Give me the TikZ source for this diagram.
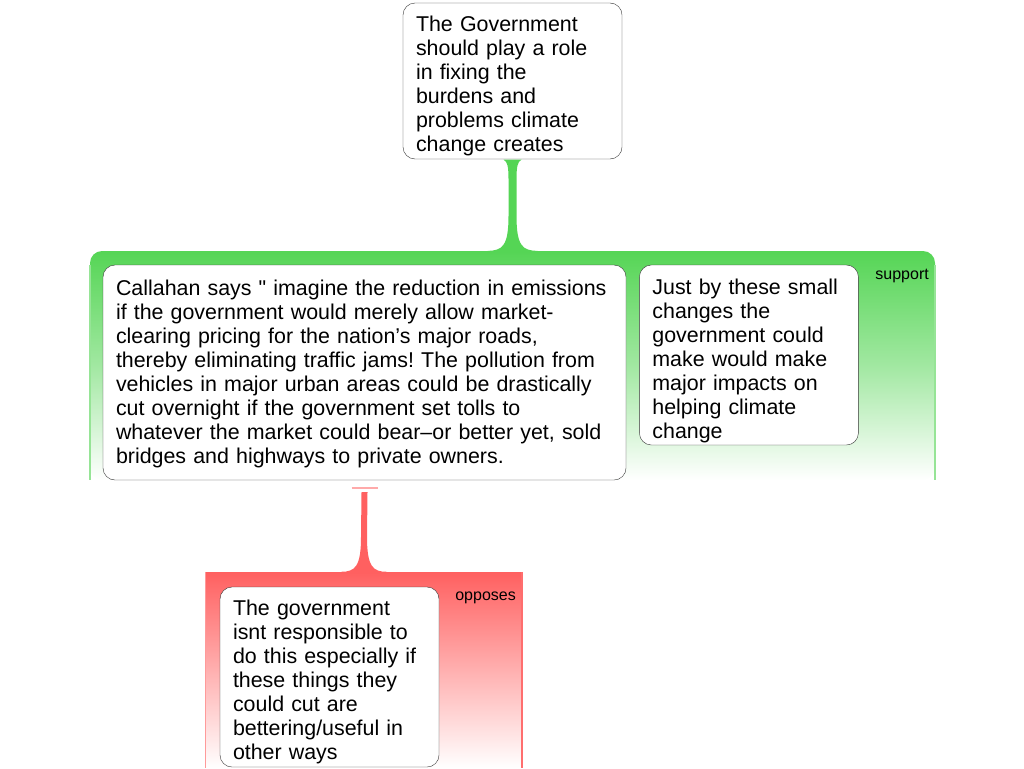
\documentclass[tikz,border=0pt]{standalone}
\usepackage{fontspec}
\setmainfont{Liberation Sans}
\usepackage{tikz}
\usetikzlibrary{calc, positioning}
\usepackage{xcolor}
\frenchspacing

\definecolor{supportgreen}{RGB}{85,213,85}
\definecolor{supportline}{RGB}{150,228,150}
\definecolor{opposered}{RGB}{255,96,96}
\definecolor{opposeline}{RGB}{255,110,110}
\definecolor{opposetick}{RGB}{255,170,170}

% extra room above the first line of a box
\newcommand{\boxgap}[1]{\rule{0pt}{#1}}

\tikzset{
  argbox/.style={draw=black!80, fill=white, rounded corners=12pt, align=left,
    inner xsep=13pt, inner ysep=0pt, font=\fontsize{21.4}{24}\selectfont},
  grouplabel/.style={anchor=east, inner sep=0pt, font=\fontsize{16}{18}\selectfont}
}

\begin{document}
\begin{tikzpicture}[x=1pt, y=-1pt]
\useasboundingbox (0,0) rectangle (1024,768);

% Group areas
\node (SupportGrp) at (512.5,365.5) [minimum width=845pt, minimum height=229pt, inner sep=0pt, rounded corners=12pt, top color=supportgreen, bottom color=white, middle color=supportgreen!55] {};
\draw[supportline, line width=1.5pt] ([yshift=-14pt]SupportGrp.north west) -- (SupportGrp.south west);
\draw[supportline, line width=1.5pt] ([yshift=-14pt]SupportGrp.north east) -- (SupportGrp.south east);
\node (SupportLbl) at (929,276) [grouplabel] {support};

\node (OpposeGrp) at (364,670) [minimum width=316pt, minimum height=196pt, inner sep=0pt, top color=opposered, bottom color=white] {};
\draw[opposeline!70, line width=1pt] (OpposeGrp.north west) -- (OpposeGrp.south west);
\draw[opposeline, line width=1.5pt] (OpposeGrp.north east) -- (OpposeGrp.south east);
\node (OpposeLbl) at (516,598) [grouplabel] {opposes};

% Argument boxes
\node (Claim) at (512.5,81) [argbox, text width=193pt, minimum height=156pt] {\boxgap{26pt}The Government\\ should play a role\\ in fixing the\\ burdens and\\ problems climate\\ change creates};
\node (Callahan) at (364.5,372.5) [argbox, text width=497pt, minimum height=215pt] {\boxgap{19pt}Callahan says \textquotedbl{} imagine the reduction in emissions\\ if the government would merely allow market-\\ clearing pricing for the nation’s major roads,\\ thereby eliminating traffic jams! The pollution from\\ vehicles in major urban areas could be drastically\\ cut overnight if the government set tolls to\\ whatever the market could bear–or better yet, sold\\ bridges and highways to private owners.};
\node (JustBy) [argbox, text width=193pt, minimum height=180pt, right=13pt of Callahan.north east, anchor=north west] {\boxgap{27pt}Just by these small\\ changes the\\ government could\\ make would make\\ major impacts on\\ helping climate\\ change};
\node (Govt) at (329.5,677) [argbox, text width=193pt, minimum height=180pt] {\boxgap{26pt}The government\\ isnt responsible to\\ do this especially if\\ these things they\\ could cut are\\ bettering/useful in\\ other ways};

% Connectors
\fill[supportgreen] ($(Claim.south)+(-9,0.5)$) .. controls ($(Claim.south)+(-5,2)$) and ($(Claim.south)+(-4,8)$) .. ($(Claim.south)+(-4,20)$)
  -- ($(SupportGrp.north)+(-4,-35)$) .. controls ($(SupportGrp.north)+(-4,-5)$) and ($(SupportGrp.north)+(-10,0)$) .. ($(SupportGrp.north)+(-25,0)$)
  -- ($(SupportGrp.north)+(-25,2)$) -- ($(SupportGrp.north)+(25,2)$) -- ($(SupportGrp.north)+(25,0)$)
  .. controls ($(SupportGrp.north)+(10,0)$) and ($(SupportGrp.north)+(4,-5)$) .. ($(SupportGrp.north)+(4,-35)$)
  -- ($(Claim.south)+(4,20)$) .. controls ($(Claim.south)+(4,8)$) and ($(Claim.south)+(5,2)$) .. ($(Claim.south)+(9,0.5)$) -- cycle;

\draw[opposetick, line width=2pt] ($(Callahan.south)+(-13,8)$) -- ($(Callahan.south)+(13,8)$);
\fill[opposered] ($(Callahan.south)+(-3,12)$) -- ($(OpposeGrp.north)+(-3,-35)$)
  .. controls ($(OpposeGrp.north)+(-3,-5)$) and ($(OpposeGrp.north)+(-9,0)$) .. ($(OpposeGrp.north)+(-23,0)$)
  -- ($(OpposeGrp.north)+(-23,2)$) -- ($(OpposeGrp.north)+(23,2)$) -- ($(OpposeGrp.north)+(23,0)$)
  .. controls ($(OpposeGrp.north)+(9,0)$) and ($(OpposeGrp.north)+(3,-5)$) .. ($(OpposeGrp.north)+(3,-35)$)
  -- ($(Callahan.south)+(3,12)$) -- cycle;
\end{tikzpicture}
\end{document}
